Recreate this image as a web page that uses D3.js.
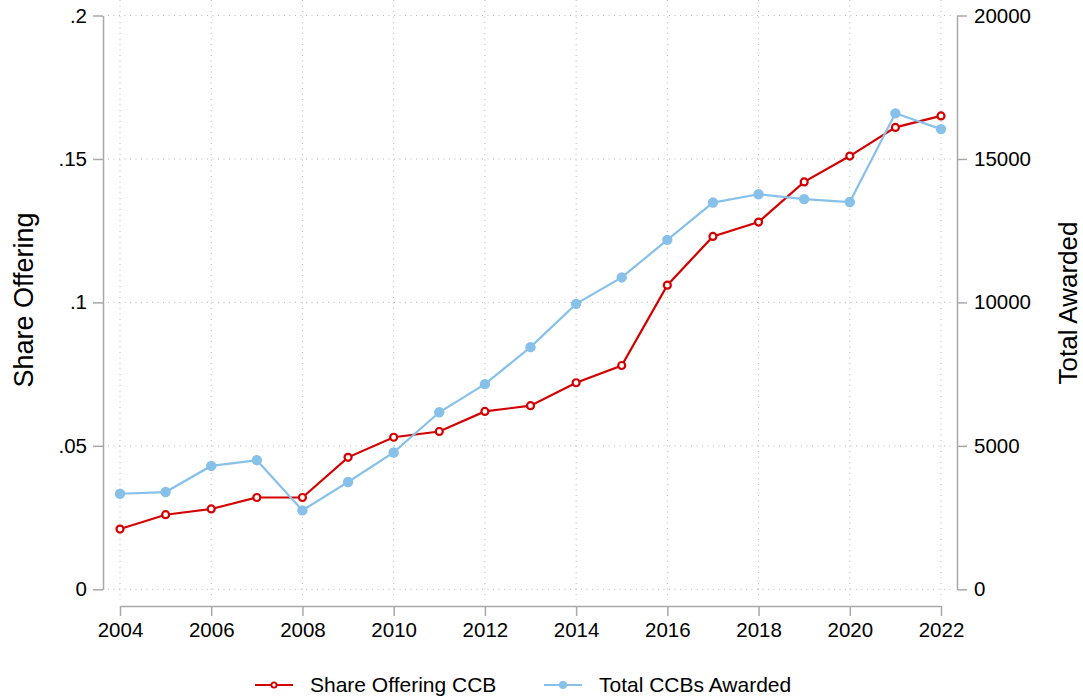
<!DOCTYPE html>
<html>
<head>
<meta charset="utf-8">
<script src="https://cdn.jsdelivr.net/npm/d3@7"></script>
<style>
  body { margin: 0; background: #fff; }
  svg { display: block; font-family: "Liberation Sans", Arial, Helvetica, sans-serif; }
</style>
</head>
<body>
<div id="chart"></div>
<script>
// data
var years = [2004, 2005, 2006, 2007, 2008, 2009, 2010, 2011, 2012, 2013,
             2014, 2015, 2016, 2017, 2018, 2019, 2020, 2021, 2022];
var shareOffering = [0.021, 0.026, 0.028, 0.032, 0.032, 0.046, 0.053, 0.055, 0.062, 0.064,
                     0.072, 0.078, 0.106, 0.123, 0.128, 0.142, 0.151, 0.161, 0.165];
var totalAwarded = [3330, 3390, 4300, 4500, 2750, 3740, 4770, 6170, 7150, 8440,
                    9950, 10870, 12180, 13480, 13770, 13600, 13500, 16590, 16040];
var xTicks = [2004, 2006, 2008, 2010, 2012, 2014, 2016, 2018, 2020, 2022];
var leftTicks = [0, 0.05, 0.1, 0.15, 0.2];
var rightTicks = [0, 5000, 10000, 15000, 20000];

var W = 1083, H = 698;
var red = '#d40000', blue = '#87c1ea', axisGrey = '#a8a8a8', gridGrey = '#b8b8b8';

var svg = d3.select('#chart').append('svg')
  .attr('width', W)
  .attr('height', H);

var x = d3.scaleLinear().domain([2004, 2022]).range([120, 941]);
var yL = d3.scaleLinear().domain([0, 0.2]).range([589.3, 15.5]);
var yR = d3.scaleLinear().domain([0, 20000]).range([589.3, 15.5]);

var fmtShare = function(d) { return d === 0 ? '0' : d3.format('.2~f')(d).replace(/^0/, ''); };

// grid
var grid = svg.append('g');
grid.selectAll('line.v').data(xTicks).enter().append('line')
  .attr('x1', x).attr('x2', x)
  .attr('y1', 0).attr('y2', 600)
  .attr('stroke', gridGrey).attr('stroke-width', 1)
  .attr('stroke-dasharray', '1,4.5');
grid.selectAll('line.h').data(leftTicks).enter().append('line')
  .attr('x1', 108).attr('x2', 952)
  .attr('y1', yL).attr('y2', yL)
  .attr('stroke', gridGrey).attr('stroke-width', 1)
  .attr('stroke-dasharray', '1,4.5');

// axes
function styleAxis(g) {
  g.selectAll('path').attr('stroke', axisGrey).attr('stroke-width', 1.5);
  g.selectAll('line').attr('stroke', axisGrey).attr('stroke-width', 1.5);
  g.selectAll('text').attr('fill', '#000').attr('font-size', 20.5)
    .attr('font-family', '"Liberation Sans", Arial, sans-serif');
}

svg.append('g')
  .attr('transform', 'translate(103,0)')
  .call(d3.axisLeft(yL).tickValues(leftTicks).tickFormat(fmtShare).tickSizeInner(10).tickSizeOuter(0).tickPadding(6))
  .call(styleAxis);

svg.append('g')
  .attr('transform', 'translate(957,0)')
  .call(d3.axisRight(yR).tickValues(rightTicks).tickFormat(d3.format('d')).tickSizeInner(10).tickSizeOuter(0).tickPadding(7))
  .call(styleAxis);

svg.append('g')
  .attr('transform', 'translate(0,606)')
  .call(d3.axisBottom(x).tickValues(xTicks).tickFormat(d3.format('d')).tickSizeInner(10).tickSizeOuter(0).tickPadding(6))
  .call(styleAxis);

// axis titles
svg.append('text')
  .attr('transform', 'translate(33,300) rotate(-90)')
  .attr('text-anchor', 'middle')
  .attr('font-size', 27)
  .text('Share Offering');

svg.append('text')
  .attr('transform', 'translate(1077,303) rotate(-90)')
  .attr('text-anchor', 'middle')
  .attr('font-size', 26)
  .text('Total Awarded');

// series
var lineL = d3.line().x(function(d, i) { return x(years[i]); }).y(function(d) { return yL(d); });
var lineR = d3.line().x(function(d, i) { return x(years[i]); }).y(function(d) { return yR(d); });

svg.append('path').datum(shareOffering)
  .attr('d', lineL).attr('fill', 'none')
  .attr('stroke', red).attr('stroke-width', 2.2);
svg.append('g').selectAll('circle').data(shareOffering).enter().append('circle')
  .attr('cx', function(d, i) { return x(years[i]); })
  .attr('cy', yL)
  .attr('r', 3.5)
  .attr('fill', '#fff')
  .attr('stroke', red).attr('stroke-width', 2.2);

svg.append('path').datum(totalAwarded)
  .attr('d', lineR).attr('fill', 'none')
  .attr('stroke', blue).attr('stroke-width', 2.2);
svg.append('g').selectAll('circle').data(totalAwarded).enter().append('circle')
  .attr('cx', function(d, i) { return x(years[i]); })
  .attr('cy', yR)
  .attr('r', 5.2)
  .attr('fill', blue);

// legend
var legend = [
  { label: 'Share Offering CCB', color: red, hollow: true, x0: 255 },
  { label: 'Total CCBs Awarded', color: blue, hollow: false, x0: 544 }
];
var lg = svg.append('g').selectAll('g').data(legend).enter().append('g')
  .attr('transform', function(d) { return 'translate(' + d.x0 + ',685)'; });
lg.append('line')
  .attr('x1', 0).attr('x2', 38).attr('y1', 0).attr('y2', 0)
  .attr('stroke', function(d) { return d.color; }).attr('stroke-width', 2.2);
lg.append('circle')
  .attr('cx', 19).attr('cy', 0)
  .attr('r', function(d) { return d.hollow ? 2.6 : 4; })
  .attr('fill', function(d) { return d.hollow ? '#fff' : d.color; })
  .attr('stroke', function(d) { return d.hollow ? d.color : 'none'; })
  .attr('stroke-width', 1.8);
lg.append('text')
  .attr('x', 55).attr('y', 0).attr('dy', '0.35em')
  .attr('font-size', 21)
  .text(function(d) { return d.label; });
</script>
</body>
</html>
